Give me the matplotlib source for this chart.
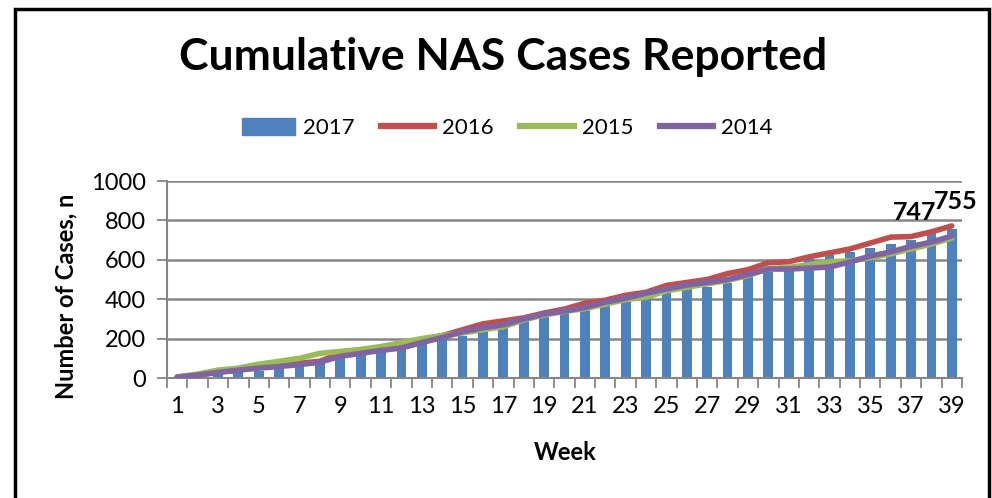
import matplotlib
matplotlib.use("Agg")
import matplotlib.pyplot as plt
from matplotlib.lines import Line2D
from matplotlib.patches import Patch, Rectangle
import numpy as np

plt.rcParams["font.family"] = ["Lato", "DejaVu Sans"]

# Data
weeks = np.arange(1, 40)
cases_2017 = [5, 10, 20, 30, 36, 51, 61, 76, 107, 122, 132, 147, 178, 198, 213,
              239, 254, 289, 310, 330, 345, 371, 386, 406, 432, 452, 462, 482,
              513, 538, 553, 604, 624, 640, 660, 680, 700, 740, 755]
cases_2016 = [5, 15, 30, 40, 55, 62, 75, 85, 125, 140, 150, 170, 195, 215, 245,
              275, 290, 305, 330, 350, 380, 395, 420, 435, 470, 485, 500, 530,
              550, 585, 590, 615, 635, 655, 685, 715, 718, 742, 772]
cases_2015 = [5, 20, 40, 50, 70, 85, 100, 125, 135, 145, 160, 180, 200, 215, 228,
              245, 260, 295, 320, 338, 352, 375, 398, 410, 442, 460, 478, 495,
              520, 555, 562, 575, 590, 595, 610, 630, 655, 680, 710]
cases_2014 = [5, 15, 28, 40, 50, 58, 68, 80, 110, 125, 140, 152, 180, 205, 235,
              255, 270, 300, 325, 340, 358, 385, 405, 430, 452, 472, 485, 500,
              525, 553, 553, 558, 563, 589, 619, 640, 668, 690, 721]
label_weeks = [38, 39]
label_text = ["747", "755"]
yticks = [0, 200, 400, 600, 800, 1000]

blue = "#4F81BD"
red = "#C0504D"
green = "#9BBB59"
purple = "#8064A2"
grid = "#868686"

fig = plt.figure(figsize=(9.92, 4.98), dpi=100)
W, H = 992, 498
ax = fig.add_axes([167 / W, 1 - 378 / H, (962 - 167) / W, (378 - 181) / H])

ax.bar(weeks, cases_2017, width=0.48, color=blue, zorder=2)
ax.plot(weeks, cases_2016, color=red, lw=4, zorder=3, solid_capstyle="round")
ax.plot(weeks, cases_2015, color=green, lw=4, zorder=3, solid_capstyle="round")
ax.plot(weeks, cases_2014, color=purple, lw=4, zorder=4, solid_capstyle="round")

# data labels on the last two bars (they nearly touch in the original)
offsets = [(-12, 6), (3, 12)]
for wk, txt, off in zip(label_weeks, label_text, offsets):
    ax.annotate(txt, (wk, cases_2017[wk - 1]), xytext=off, textcoords="offset points",
                ha="center", va="bottom", fontsize=18, fontweight="bold", zorder=5)

ax.set_xlim(0.5, 39.5)
ax.set_ylim(0, 1000)
ax.set_yticks(yticks)
ax.yaxis.grid(True, color=grid, lw=1.8, zorder=0)
ax.set_axisbelow(True)

ax.set_xticks(weeks[::2])
ax.set_xticks(np.arange(0.5, 40), minor=True)
ax.tick_params(axis="x", which="major", length=0, pad=13, labelsize=17)
ax.tick_params(axis="x", which="minor", length=7, width=1.3, color=grid)
ax.tick_params(axis="y", length=7, width=1.3, color=grid, labelsize=17, pad=8)

for s in ["top", "right"]:
    ax.spines[s].set_visible(False)
for s in ["left", "bottom"]:
    ax.spines[s].set_color(grid)
    ax.spines[s].set_linewidth(1.5)

fig.text(565 / W, 1 - 452 / H, "Week", ha="center", va="center",
         fontsize=17, fontweight="bold")
fig.text(66 / W, 1 - 296 / H, "Number of Cases, n", ha="center", va="center",
         rotation=90, fontsize=17, fontweight="bold")
fig.text(503 / W, 1 - 57 / H, "Cumulative NAS Cases Reported", ha="center",
         va="center", fontsize=32, fontweight="bold")

handles = [Patch(color=blue),
           Line2D([], [], color=red, lw=4.5),
           Line2D([], [], color=green, lw=4.5),
           Line2D([], [], color=purple, lw=4.5)]
fig.legend(handles, ["2017", "2016", "2015", "2014"], loc="center",
           bbox_to_anchor=(507 / W, 1 - 128 / H), ncol=4, frameon=False,
           fontsize=16, handlelength=2.4, handleheight=0.8, handletextpad=0.35,
           columnspacing=1.2)

fig.patches.append(Rectangle((15 / W, -0.05), (989 - 15) / W, 1 - 9 / H + 0.05,
                             transform=fig.transFigure, fill=False,
                             edgecolor="black", lw=2.5))

fig.savefig("out.png", dpi=100)
